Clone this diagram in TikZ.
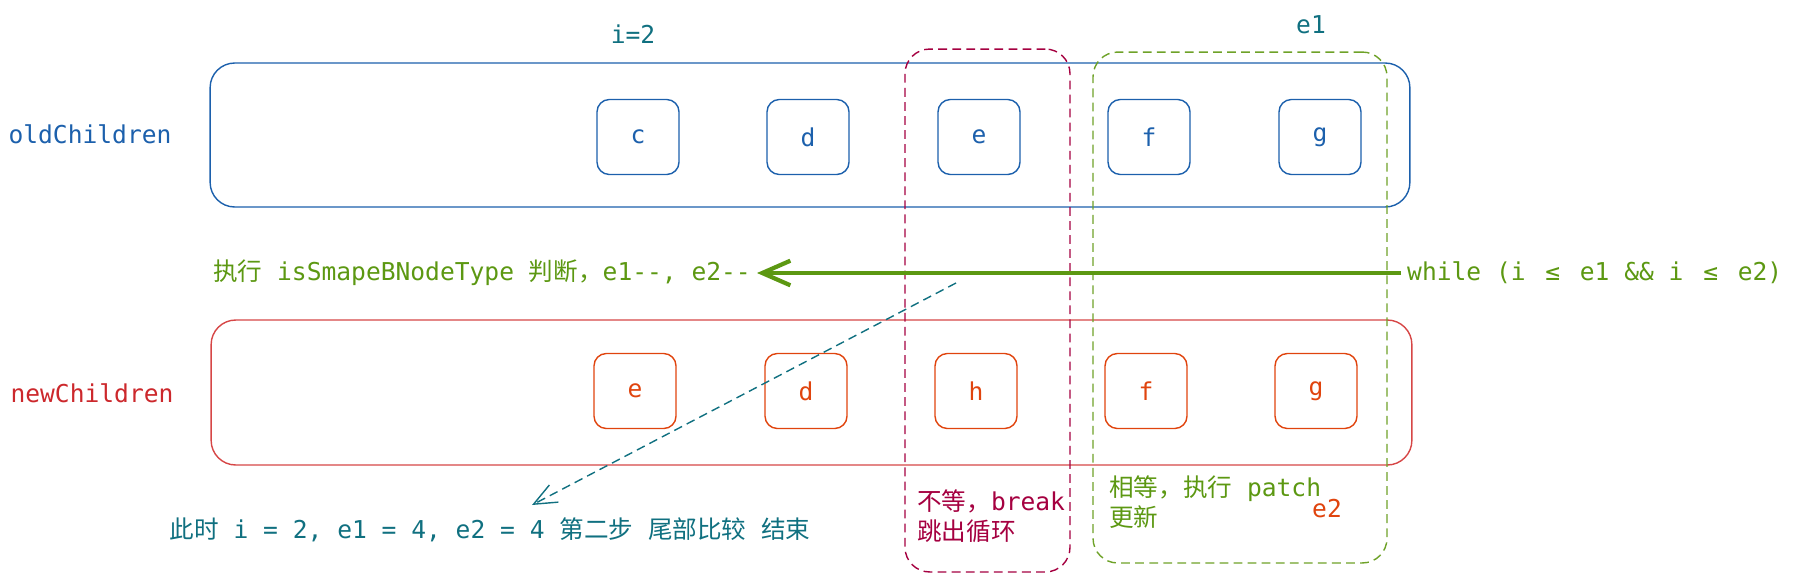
\documentclass[tikz,border=0pt]{standalone}
\usepackage{fontspec}
\setmonofont{DejaVu Sans Mono}
\newfontfamily\cjk{Noto Sans CJK SC}
\usepackage{tikz}
\usetikzlibrary{arrows.meta}
\definecolor{oldblue}{RGB}{28,96,172}
\definecolor{newred}{RGB}{204,40,44}
\definecolor{newline}{RGB}{214,70,70}
\definecolor{neworange}{RGB}{224,68,14}
\definecolor{stepteal}{RGB}{16,112,128}
\definecolor{loopgreen}{RGB}{92,152,18}
\definecolor{zonegreen}{RGB}{110,162,40}
\definecolor{breakred}{RGB}{165,0,64}
\newcommand{\hanzi}[1]{{\cjk #1}}
\newcommand{\wideleq}{\makebox[14pt]{≤}}

\begin{document}
\begin{tikzpicture}[x=0.02cm, y=-0.02cm,
    every node/.style={font=\ttfamily\fontsize{14}{17}\selectfont},
    row/.style={rectangle, rounded corners=14pt, line width=0.8pt},
    elem/.style={rectangle, rounded corners=7pt, line width=0.8pt,
                 minimum width=1.64cm, minimum height=1.5cm},
    zone/.style={rectangle, rounded corners=14pt, line width=0.8pt,
                 dash pattern=on 5pt off 3pt},
    mainarr/.style={line width=2.4pt, color=loopgreen,
                    -{Straight Barb[length=16pt, width=14pt]}},
    cmparr/.style={line width=0.8pt, color=stepteal, dash pattern=on 5pt off 3pt,
                   -{Straight Barb[length=13pt, width=11pt]}}]

    \useasboundingbox (0,0) rectangle (1801,582);

    \node[text=stepteal] (ilbl)  at (633,34)  {i=2};
    \node[text=stepteal] (e1lbl) at (1311,25) {e1};

    \node[text=oldblue] (oldlbl) at (90,134) {oldChildren};
    \node[text=newred]  (newlbl) at (92,393) {newChildren};

    \node[row, draw=oldblue, minimum width=24cm, minimum height=2.88cm] (oldrow) at (810,135) {};
    \node[row, draw=newline, minimum width=24.02cm, minimum height=2.9cm] (newrow) at (811.5,392.5) {};

    \node[elem, draw=oldblue, text=oldblue] (oc) at (638,137)  {c};
    \node[elem, draw=oldblue, text=oldblue] (od) at (808,137)  {d};
    \node[elem, draw=oldblue, text=oldblue] (oe) at (979,137)  {e};
    \node[elem, draw=oldblue, text=oldblue] (of) at (1149,137) {f};
    \node[elem, draw=oldblue, text=oldblue] (og) at (1320,137) {g};

    \node[elem, draw=neworange, text=neworange] (ne) at (635,391)  {e};
    \node[elem, draw=neworange, text=neworange] (nd) at (806,391)  {d};
    \node[elem, draw=neworange, text=neworange] (nh) at (976,391)  {h};
    \node[elem, draw=neworange, text=neworange] (nf) at (1146,391) {f};
    \node[elem, draw=neworange, text=neworange] (ng) at (1316,391) {g};

    \node[zone, draw=breakred, minimum width=3.3cm, minimum height=10.46cm] (breakzone) at (987.5,310.5) {};
    \node[zone, draw=zonegreen, minimum width=5.88cm, minimum height=10.22cm] (patchzone) at (1240,307.5) {};

    \node[text=loopgreen, anchor=west] (whilelbl) at (1401,273)
        {while (i \wideleq{} e1 \&\& i \wideleq{} e2)};
    \node[text=loopgreen, anchor=east] (steplbl) at (757,273)
        {\hanzi{执行} isSmapeBNodeType \hanzi{判断，}e1-{}-, e2-{}-};
    \draw[mainarr] (whilelbl.west) -- (steplbl.east);

    \coordinate (cmpstart) at (956,283);
    \coordinate (cmpend)   at (532,505);
    \draw[cmparr] (cmpstart) -- (cmpend);

    \node[text=stepteal] (endlbl) at (490,530)
        {\hanzi{此时} i = 2, e1 = 4, e2 = 4 \hanzi{第二步} \hanzi{尾部比较} \hanzi{结束}};

    \node[text=breakred, anchor=west, align=left] (breaklbl) at (911,516)
        {\hanzi{不等，}break\\\hanzi{跳出循环}};
    \node[text=loopgreen, anchor=west, align=left] (patchlbl) at (1103,502)
        {\hanzi{相等，执行} patch\\\hanzi{更新}};
    \node[text=neworange] (e2lbl) at (1327,509) {e2};

\end{tikzpicture}
\end{document}
